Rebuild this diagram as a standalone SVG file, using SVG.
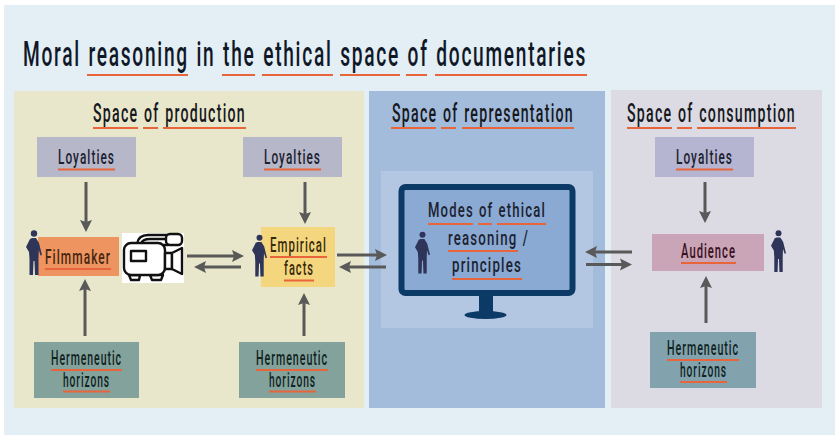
<svg xmlns="http://www.w3.org/2000/svg" width="835" height="435" viewBox="0 0 835 435">
<style>
text{font-family:"Roboto","Liberation Sans",sans-serif;text-anchor:start;letter-spacing:.09em;word-spacing:.06em;font-weight:500}
.t{font-size:35px;fill:#101828}
.h{font-size:25px;fill:#16181c}
.n{font-size:21px;fill:#1c2230}
.s{font-size:20px;fill:#10231f}
.u{stroke:#e8643a;stroke-width:2;fill:none}
.c{stroke:#595959;stroke-width:3;fill:none;marker-end:url(#a)}
.cam{stroke:#111;stroke-width:2.400;fill:#fff;stroke-linejoin:round}
</style>
<defs>
<marker id="a" markerUnits="userSpaceOnUse" markerWidth="13" markerHeight="13" refX="2" refY="6.500" orient="auto"><path d="M0 0.500L12 6.500L0 12.500L2 6.500Z" fill="#595959"/></marker>
<symbol id="p" viewBox="0 0 16 45" overflow="visible"><g fill="#2e3558"><circle cx="8" cy="3.500" r="3.200"/><path d="M6 8L10 8L13 13L16 25L14.500 25.500L12.800 20L12.500 28L12.500 45L9 45L8.500 31L7.500 31L7 45L3.500 45L3.500 29L3 22L0 17L4 9Z"/></g></symbol>
</defs>
<rect width="835" height="435" fill="#fff"/>
<rect x="4" y="5" width="831" height="430" fill="#e3eef5"/>
<g id="title">
<text class="t" x="23" y="66" textLength="564" lengthAdjust="spacingAndGlyphs">Moral reasoning in the ethical space of documentaries</text>
<path class="u" d="M87 75H188M222 75H255M262 75H333M340 75H400M406 75H427M435 75H587"/>
</g>
<g id="space-production">
<rect x="14" y="91" width="350" height="317" fill="#e9e7cb"/>
<text class="h" x="93" y="122" textLength="153" lengthAdjust="spacingAndGlyphs">Space of production</text>
<path class="u" d="M93 128H138M143 128H158M163 128H246"/>
</g>
<g id="space-representation">
<rect x="369" y="91" width="236" height="317" fill="#a3bcdc"/>
<text class="h" x="392" y="122" textLength="182" lengthAdjust="spacingAndGlyphs">Space of representation</text>
<path class="u" d="M391 128H436M441 128H456M462 128H574"/>
<rect x="381" y="171" width="212" height="157" fill="#b3c6e2"/>
</g>
<g id="space-consumption">
<rect x="611" y="90" width="211" height="318" fill="#dcdbe4"/>
<text class="h" x="627" y="122" textLength="169" lengthAdjust="spacingAndGlyphs">Space of consumption</text>
<path class="u" d="M627 128H672M677 128H692M697 128H796"/>
</g>
<g id="connectors">
<path class="c" d="M86 182V222"/>
<path class="c" d="M305 182V214"/>
<path class="c" d="M705 182V213"/>
<path class="c" d="M85 336V289"/>
<path class="c" d="M304 336V303"/>
<path class="c" d="M706 323V286"/>
<path class="c" d="M187 256H234"/>
<path class="c" d="M241 267H204"/>
<path class="c" d="M337 255H377"/>
<path class="c" d="M386 267H349"/>
<path class="c" d="M632 252H595"/>
<path class="c" d="M586 264.500H622"/>
</g>
<g id="loyalties-1">
<rect x="37" y="137" width="99" height="40" fill="#b7b7ca"/>
<text class="n" x="58" y="164" textLength="57" lengthAdjust="spacingAndGlyphs">Loyalties</text>
<path class="u" d="M58 169.500H115"/>
</g>
<g id="loyalties-2">
<rect x="243" y="137" width="99" height="40" fill="#b7b7ca"/>
<text class="n" x="264" y="164" textLength="57" lengthAdjust="spacingAndGlyphs">Loyalties</text>
<path class="u" d="M264 169.500H321"/>
</g>
<g id="loyalties-3">
<rect x="655" y="137" width="99" height="40" fill="#b5b5d2"/>
<text class="n" x="676" y="164" textLength="57" lengthAdjust="spacingAndGlyphs">Loyalties</text>
<path class="u" d="M676 169.500H733"/>
</g>
<g id="filmmaker">
<rect x="38" y="237" width="81" height="39" fill="#ee9461"/>
<use href="#p" x="26" y="230" width="16" height="45"/>
<text class="n" x="45" y="264" textLength="66" lengthAdjust="spacingAndGlyphs" style="fill:#45270f">Filmmaker</text>
<path class="u" d="M45 269H111"/>
</g>
<g id="camera">
<rect x="122" y="233" width="62" height="50" fill="#fff"/>
<path class="cam" d="M129 275H140L139 280H131ZM150 275H163L161 280H152Z"/>
<path class="cam" d="M137 244C138 237 142 235 148 235H168V245H163"/>
<path class="cam" d="M141 244C142 240 145 239 150 239H166"/>
<rect class="cam" x="124" y="243" width="41" height="32" rx="7"/>
<rect class="cam" x="131" y="251" width="15" height="10"/>
<rect class="cam" x="166" y="234" width="16" height="11" rx="4"/>
<path class="cam" d="M165 253H172V269H165Z"/>
<path class="cam" d="M172 253L182 248V274L172 269Z"/>
</g>
<g id="empirical-facts">
<rect x="261" y="227" width="74" height="60" fill="#f3d67e"/>
<use href="#p" x="252" y="234" width="15" height="43"/>
<text class="n" x="270" y="252" textLength="57" lengthAdjust="spacingAndGlyphs" style="fill:#3a2a0a">Empirical</text>
<path class="u" d="M270 257H327"/>
<text class="n" x="284" y="275" textLength="30" lengthAdjust="spacingAndGlyphs" style="fill:#3a2a0a">facts</text>
<path class="u" d="M284 280.500H314"/>
</g>
<g id="modes">
<rect x="479" y="293" width="14" height="20" fill="#0c3a66"/>
<ellipse cx="485.500" cy="315" rx="21" ry="4" fill="#0c3a66"/>
<rect x="401.500" y="187" width="171" height="106" rx="4" fill="#8aa9d3" stroke="#0c3a66" stroke-width="6"/>
<use href="#p" x="415" y="231" width="15" height="43"/>
<text class="n" x="428" y="217" textLength="118" lengthAdjust="spacingAndGlyphs">Modes of ethical</text>
<path class="u" d="M428 224H473M478 224H492M497 224H546"/>
<text class="n" x="448" y="245" textLength="81" lengthAdjust="spacingAndGlyphs">reasoning /</text>
<path class="u" d="M448 251H518"/>
<text class="n" x="452" y="272" textLength="70" lengthAdjust="spacingAndGlyphs">principles</text>
<path class="u" d="M452 279H522"/>
</g>
<g id="audience">
<rect x="652" y="234" width="112" height="37" fill="#c9a5b7"/>
<use href="#p" x="771" y="229" width="15" height="44"/>
<text class="n" x="681" y="258" textLength="55" lengthAdjust="spacingAndGlyphs" style="fill:#3a0f20">Audience</text>
<path class="u" d="M681 263H736"/>
</g>
<g id="hermeneutic-1">
<rect x="34" y="342" width="105" height="56" fill="#83a29c"/>
<text class="s" x="51" y="365" textLength="71" lengthAdjust="spacingAndGlyphs">Hermeneutic</text>
<path class="u" d="M51 370H122"/>
<text class="s" x="63" y="387" textLength="47" lengthAdjust="spacingAndGlyphs">horizons</text>
<path class="u" d="M63 391.500H110"/>
</g>
<g id="hermeneutic-2">
<rect x="239" y="342" width="106" height="56" fill="#83a29c"/>
<text class="s" x="256" y="365" textLength="72" lengthAdjust="spacingAndGlyphs">Hermeneutic</text>
<path class="u" d="M256 370H328"/>
<text class="s" x="269" y="387" textLength="47" lengthAdjust="spacingAndGlyphs">horizons</text>
<path class="u" d="M269 391.500H316"/>
</g>
<g id="hermeneutic-3">
<rect x="650" y="332" width="106" height="56" fill="#82a3ae"/>
<text class="s" x="667" y="355" textLength="72" lengthAdjust="spacingAndGlyphs">Hermeneutic</text>
<path class="u" d="M667 360H739"/>
<text class="s" x="680" y="377" textLength="47" lengthAdjust="spacingAndGlyphs">horizons</text>
<path class="u" d="M680 382H727"/>
</g>
</svg>
